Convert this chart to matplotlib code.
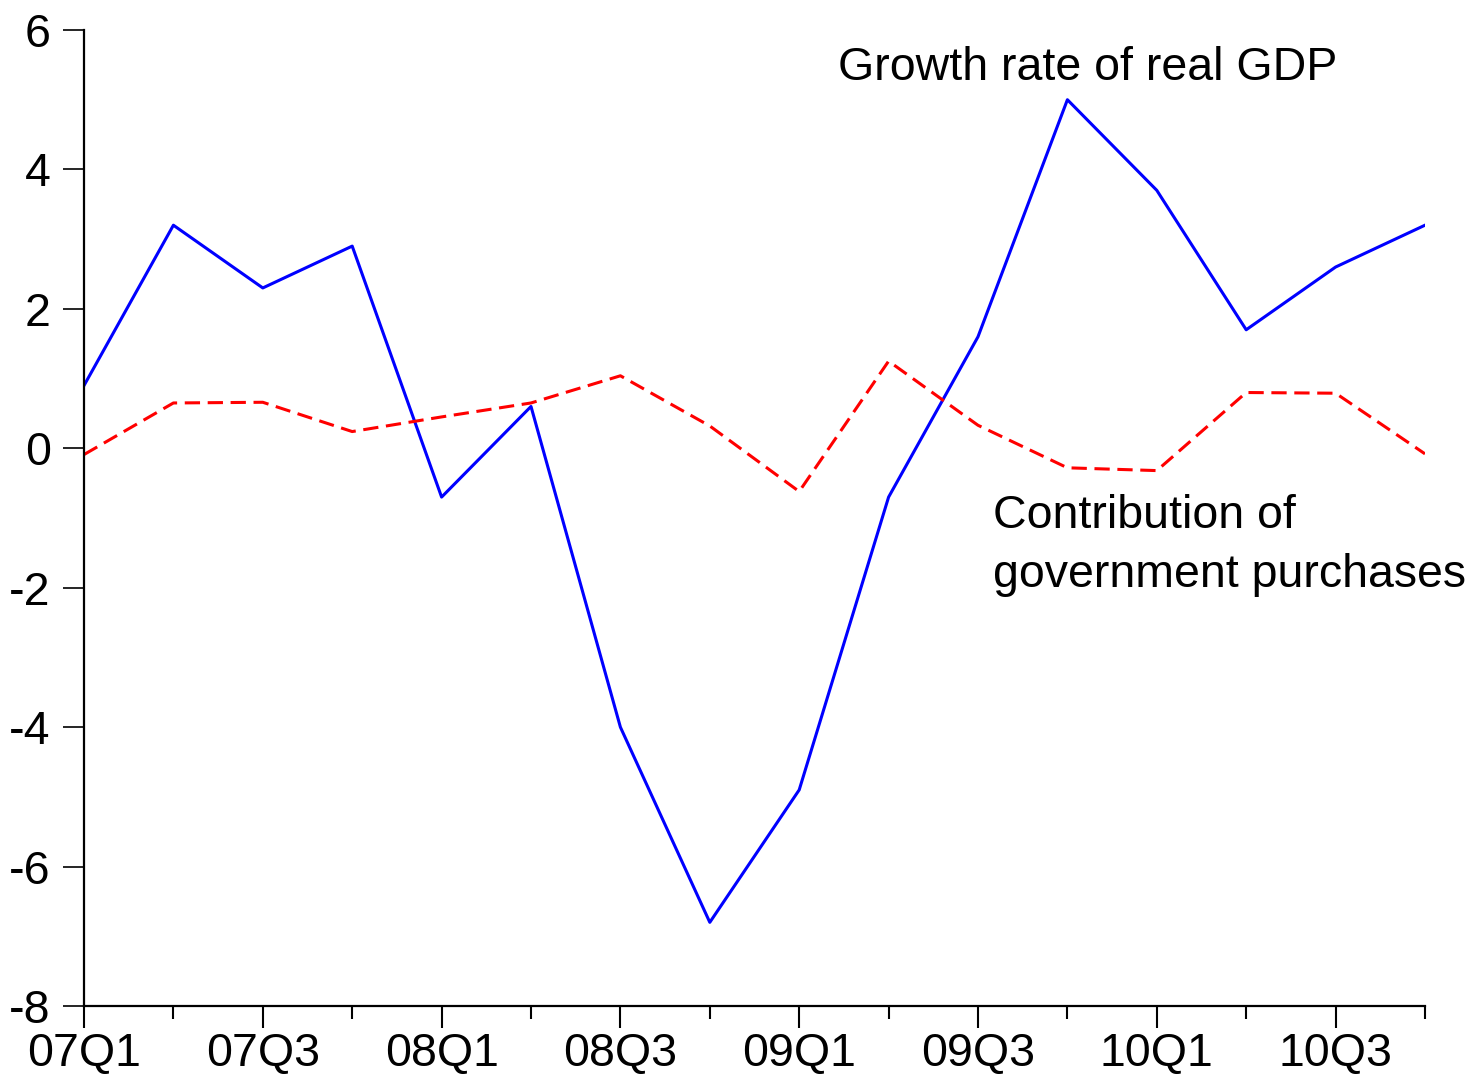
import numpy as np
import matplotlib
matplotlib.use("Agg")
import matplotlib.pyplot as plt


quarters = ["07Q1", "07Q2", "07Q3", "07Q4", "08Q1", "08Q2", "08Q3", "08Q4",
            "09Q1", "09Q2", "09Q3", "09Q4", "10Q1", "10Q2", "10Q3", "10Q4"]
gdp_growth = [0.9, 3.2, 2.3, 2.9, -0.7, 0.6, -4.0, -6.8,
              -4.9, -0.7, 1.6, 5.0, 3.7, 1.7, 2.6, 3.2]
gov_contrib = [-0.09, 0.65, 0.66, 0.24, 0.45, 0.65, 1.04, 0.32,
               -0.62, 1.25, 0.33, -0.28, -0.32, 0.80, 0.79, -0.08]
y_ticks = [-8, -6, -4, -2, 0, 2, 4, 6]

plt.rcParams['font.family'] = ['Liberation Sans', 'DejaVu Sans']
FS = 33.5

fig = plt.figure(figsize=(14.81, 10.8), dpi=100)
ax = fig.add_axes([84 / 1481, 1 - 1006 / 1080, (1425 - 84) / 1481, (1006 - 30) / 1080])

x = np.arange(len(quarters))
ax.plot(x, gdp_growth, color='#0000ff', lw=2.2)
ax.plot(x, gov_contrib, color='#ff0000', lw=2.2, ls=(0, (5.0, 2.5)))

ax.set_xlim(0, len(quarters) - 1)
ax.set_ylim(-8, 6)
ax.set_yticks(y_ticks)
ax.set_yticklabels([str(v) for v in y_ticks], fontsize=FS)
ax.set_xticks(x[::2])
ax.set_xticklabels(quarters[::2], fontsize=FS)
ax.set_xticks(x[1::2], minor=True)

for side in ['top', 'right']:
    ax.spines[side].set_visible(False)
for side in ['left', 'bottom']:
    ax.spines[side].set_linewidth(1.6)
    ax.spines[side].set_zorder(5)

ax.tick_params(axis='y', direction='out', length=15, width=1.2, pad=9)
ax.tick_params(axis='x', which='major', direction='out', length=16, width=1.5, pad=3)
ax.tick_params(axis='x', which='minor', direction='out', length=9, width=1.5)

# annotations (data coords)
ax.text(8.43, 5.28, "Growth rate of real GDP", fontsize=FS, ha='left', va='baseline')
ax.text(10.17, -1.14, "Contribution of", fontsize=FS, ha='left', va='baseline')
ax.text(10.17, -1.99, "government purchases", fontsize=FS, ha='left', va='baseline')

fig.savefig("out.png", dpi=100)
